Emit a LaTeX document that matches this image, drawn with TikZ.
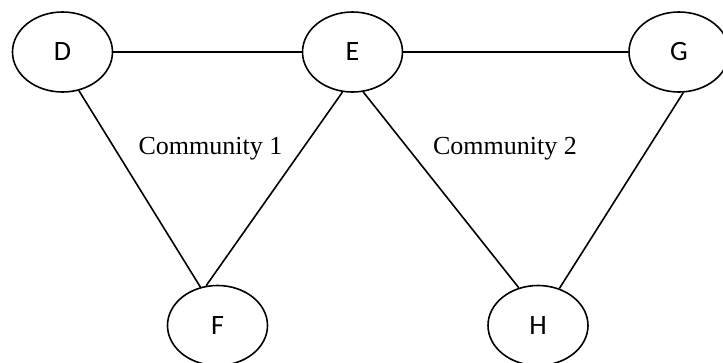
\documentclass[tikz,border=0pt]{standalone}
\usepackage{fontspec}
\setmainfont{Liberation Serif}
\newfontfamily\labfont{Carlito}
\usetikzlibrary{shapes.geometric}
\begin{document}
\begin{tikzpicture}[x=1pt,y=-1pt,
  vertex/.style={draw=black,ellipse,line width=1.6pt,minimum width=100pt,minimum height=80pt,inner sep=0pt,font=\labfont\fontsize{28}{30}\selectfont},
  edge/.style={draw=black,line width=1.6pt},
  commlabel/.style={anchor=base,inner sep=0pt,font=\fontsize{26}{30}\selectfont}]
\useasboundingbox (0,0) rectangle (723,362);
\node[vertex] (D) at (62.5,52) {D};
\node[vertex] (E) at (352.5,52) {E};
\node[vertex] (G) at (679,52) {G};
\node[vertex] (F) at (217.5,325.5) {F};
\node[vertex] (H) at (538,325.5) {H};
\draw[edge] (D.east) -- (E.west);
\draw[edge] (E.east) -- (G.west);
\draw[edge] (D.-67) -- (F.114);
\draw[edge] (E.-104) -- (F.106);
\draw[edge] (E.-75.6) -- (H.117.5);
\draw[edge] (G.-84.8) -- (H.60.8);
\node[commlabel] (c1) at (210.5,154) {Community 1};
\node[commlabel] (c2) at (505,154) {Community 2};
\end{tikzpicture}
\end{document}
